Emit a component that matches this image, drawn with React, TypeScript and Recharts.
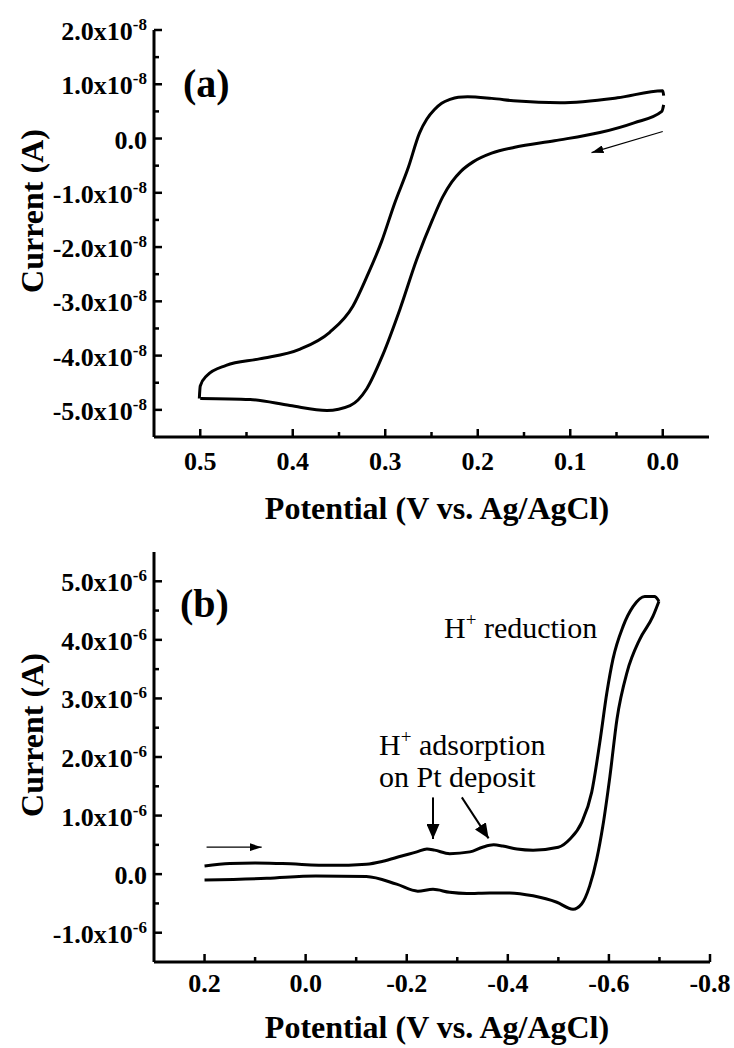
import { LineChart, Line, XAxis, YAxis } from 'recharts';

// panel (a): potential in V, current in units of 1e-8 A
const aCathodicV = [-0.001, 0.001, 0.031, 0.068, 0.117, 0.16, 0.185, 0.205, 0.218, 0.228, 0.238, 0.249, 0.266, 0.284, 0.303, 0.32, 0.338, 0.363, 0.403, 0.446, 0.5];
const aCathodicI = [0.62, 0.5, 0.29, 0.11, -0.04, -0.16, -0.27, -0.43, -0.6, -0.8, -1.08, -1.5, -2.23, -3.14, -4.0, -4.61, -4.92, -5.01, -4.92, -4.81, -4.79];
const aAnodicV = [0.501, 0.5, 0.493, 0.472, 0.436, 0.392, 0.36, 0.335, 0.32, 0.304, 0.29, 0.275, 0.263, 0.255, 0.247, 0.239, 0.23, 0.221, 0.211, 0.185, 0.157, 0.111, 0.049, 0.0, -0.001];
const aAnodicI = [-4.79, -4.56, -4.37, -4.18, -4.06, -3.88, -3.57, -3.09, -2.55, -1.9, -1.2, -0.53, 0.1, 0.36, 0.53, 0.65, 0.72, 0.76, 0.77, 0.74, 0.69, 0.66, 0.75, 0.88, 0.79];
const aArrowV = [0.0, 0.077];
const aArrowI = [0.13, -0.26];

// panel (b): potential in V, current in units of 1e-6 A
const bForwardV = [0.2, 0.15, 0.1, 0.046, -0.05, -0.12, -0.153, -0.19, -0.22, -0.24, -0.255, -0.285, -0.325, -0.35, -0.372, -0.39, -0.418, -0.45, -0.5, -0.523, -0.546, -0.566, -0.582, -0.596, -0.608, -0.628, -0.648, -0.671, -0.69, -0.699];
const bForwardI = [0.14, 0.18, 0.19, 0.18, 0.15, 0.17, 0.22, 0.31, 0.38, 0.43, 0.41, 0.35, 0.38, 0.46, 0.5, 0.48, 0.43, 0.41, 0.46, 0.6, 0.88, 1.4, 2.25, 3.1, 3.67, 4.23, 4.57, 4.74, 4.74, 4.66];
const bReverseV = [-0.699, -0.687, -0.661, -0.636, -0.616, -0.602, -0.588, -0.576, -0.562, -0.546, -0.529, -0.497, -0.45, -0.404, -0.364, -0.319, -0.285, -0.252, -0.222, -0.18, -0.12, -0.02, 0.077, 0.2];
const bReverseI = [4.66, 4.4, 4.01, 3.45, 2.65, 1.67, 0.82, 0.26, -0.2, -0.51, -0.6, -0.48, -0.37, -0.32, -0.32, -0.33, -0.31, -0.26, -0.29, -0.17, -0.04, -0.03, -0.07, -0.1];
const bScanArrowV = [0.196, 0.087];
const bScanArrowI = [0.46, 0.46];
const bPeak1ArrowV = [-0.252, -0.252];
const bPeak1ArrowI = [1.31, 0.6];
const bPeak2ArrowV = [-0.309, -0.362];
const bPeak2ArrowI = [1.31, 0.61];

// ticks
const aXMajor = [0.5, 0.4, 0.3, 0.2, 0.1, 0.0];
const aXMinor = [0.45, 0.35, 0.25, 0.15, 0.05];
const aYMajor = [2, 1, 0, -1, -2, -3, -4, -5];
const aYMinor = [1.5, 0.5, -0.5, -1.5, -2.5, -3.5, -4.5];
const bXMajor = [0.2, 0.0, -0.2, -0.4, -0.6, -0.8];
const bXMinor = [0.1, -0.1, -0.3, -0.5, -0.7];
const bYMajor = [5, 4, 3, 2, 1, 0, -1];
const bYMinor = [4.5, 3.5, 2.5, 1.5, 0.5, -0.5];

const zip = (v: number[], i: number[]) => v.map((x, k) => ({ v: x, i: i[k] }));

const FONT = "'Liberation Serif', 'Times New Roman', serif";
const isMajor = (v: number, majors: number[]) => majors.some((m) => Math.abs(m - v) < 1e-9);

type Side = 'left' | 'right' | 'top' | 'bottom';

function makeTick(side: Side, majors: number[], exp?: string, labelGap = 32) {
  return (props: any) => {
    const { x, y, payload } = props;
    const v = payload.value as number;
    const major = isMajor(v, majors);
    const len = major ? 8 : 5;
    let x2 = x;
    let y2 = y;
    if (side === 'left') x2 = x + len;
    if (side === 'right') x2 = x - len;
    if (side === 'bottom') y2 = y - len;
    if (side === 'top') y2 = y + len;
    let label = null;
    if (major && side === 'left') {
      const zero = Math.abs(v) < 1e-9;
      label = (
        <text x={x - 7} y={y + 10} textAnchor="end" fontFamily={FONT} fontWeight="bold" fontSize={26} fill="#000">
          {zero ? '0.0' : v.toFixed(1) + 'x10'}
          {!zero && (
            <tspan dy={-10} fontSize={17}>
              {exp}
            </tspan>
          )}
        </text>
      );
    }
    if (major && side === 'bottom') {
      label = (
        <text x={x} y={y + labelGap} textAnchor="middle" fontFamily={FONT} fontWeight="bold" fontSize={26} fill="#000">
          {Math.abs(v) < 1e-9 ? '0.0' : v.toFixed(1)}
        </text>
      );
    }
    return (
      <g>
        <line x1={x} y1={y} x2={x2} y2={y2} stroke="#000" strokeWidth={2.5} />
        {label}
      </g>
    );
  };
}

const axisLine = { stroke: '#000', strokeWidth: 3 };

function ArrowDefs({ id }: { id: string }) {
  return (
    <defs>
      <marker id={id + 'thin'} viewBox="0 0 10 10" refX="10" refY="5" markerWidth="12" markerHeight="8" markerUnits="userSpaceOnUse" orient="auto" preserveAspectRatio="none">
        <path d="M0,0 L10,5 L0,10 z" fill="#000" />
      </marker>
      <marker id={id + 'bold'} viewBox="0 0 10 10" refX="10" refY="5" markerWidth="15" markerHeight="13" markerUnits="userSpaceOnUse" orient="auto" preserveAspectRatio="none">
        <path d="M0,0 L10,5 L0,10 z" fill="#000" />
      </marker>
    </defs>
  );
}

function PanelA() {
  const xTicks = [...aXMajor, ...aXMinor];
  const yTicks = [...aYMajor, ...aYMinor];
  return (
    <LineChart width={734} height={532} margin={{ top: 30, right: 25, bottom: 0, left: 0 }}>
      <ArrowDefs id="a" />
      <XAxis xAxisId="b" dataKey="v" type="number" domain={[-0.05, 0.55]} reversed allowDataOverflow ticks={xTicks} interval={0} height={95} tickSize={0} tickMargin={0} tickLine={false} axisLine={axisLine} tick={makeTick('bottom', aXMajor, undefined, 33)} />
      <XAxis xAxisId="t" orientation="top" dataKey="v" type="number" domain={[-0.05, 0.55]} reversed allowDataOverflow ticks={xTicks} interval={0} height={0} tickSize={0} tickMargin={0} tickLine={false} axisLine={axisLine} tick={makeTick('top', aXMajor)} />
      <YAxis yAxisId="l" type="number" domain={[-5.5, 2]} allowDataOverflow ticks={yTicks} interval={0} width={154} tickSize={0} tickMargin={0} tickLine={false} axisLine={axisLine} tick={makeTick('left', aYMajor, '-8')} />
      <YAxis yAxisId="r" orientation="right" type="number" domain={[-5.5, 2]} allowDataOverflow ticks={yTicks} interval={0} width={0} tickSize={0} tickMargin={0} tickLine={false} axisLine={axisLine} tick={makeTick('right', aYMajor)} />
      <Line data={zip(aCathodicV, aCathodicI)} dataKey="i" xAxisId="b" yAxisId="l" type="monotone" stroke="#000" strokeWidth={3} dot={false} activeDot={false} isAnimationActive={false} />
      <Line data={zip(aAnodicV, aAnodicI)} dataKey="i" xAxisId="b" yAxisId="l" type="monotone" stroke="#000" strokeWidth={3} dot={false} activeDot={false} isAnimationActive={false} />
      <Line data={zip(aArrowV, aArrowI)} dataKey="i" xAxisId="b" yAxisId="l" type="linear" stroke="#000" strokeWidth={1.2} dot={false} activeDot={false} isAnimationActive={false} markerEnd="url(#athin)" />
      <text x={183} y={97} fontFamily={FONT} fontWeight="bold" fontSize={40} fill="#000">(a)</text>
      <text transform="rotate(-90)" x={-211} y={43} textAnchor="middle" fontFamily={FONT} fontWeight="bold" fontSize={32} fill="#000">Current (A)</text>
      <text x={437} y={519} textAnchor="middle" fontFamily={FONT} fontWeight="bold" fontSize={32} fill="#000">Potential (V vs. Ag/AgCl)</text>
    </LineChart>
  );
}

function PanelB() {
  const xTicks = [...bXMajor, ...bXMinor];
  const yTicks = [...bYMajor, ...bYMinor];
  return (
    <LineChart width={734} height={516} margin={{ top: 20, right: 24, bottom: 0, left: 0 }}>
      <ArrowDefs id="b" />
      <XAxis xAxisId="b" dataKey="v" type="number" domain={[-0.8, 0.3]} reversed allowDataOverflow ticks={xTicks} interval={0} height={86} tickSize={0} tickMargin={0} tickLine={false} axisLine={axisLine} tick={makeTick('bottom', bXMajor, undefined, 30)} />
      <XAxis xAxisId="t" orientation="top" dataKey="v" type="number" domain={[-0.8, 0.3]} reversed allowDataOverflow ticks={xTicks} interval={0} height={0} tickSize={0} tickMargin={0} tickLine={false} axisLine={axisLine} tick={makeTick('top', bXMajor)} />
      <YAxis yAxisId="l" type="number" domain={[-1.5, 5.5]} allowDataOverflow ticks={yTicks} interval={0} width={154} tickSize={0} tickMargin={0} tickLine={false} axisLine={axisLine} tick={makeTick('left', bYMajor, '-6')} />
      <YAxis yAxisId="r" orientation="right" type="number" domain={[-1.5, 5.5]} allowDataOverflow ticks={yTicks} interval={0} width={0} tickSize={0} tickMargin={0} tickLine={false} axisLine={axisLine} tick={makeTick('right', bYMajor)} />
      <Line data={zip(bForwardV, bForwardI)} dataKey="i" xAxisId="b" yAxisId="l" type="monotone" stroke="#000" strokeWidth={3} dot={false} activeDot={false} isAnimationActive={false} />
      <Line data={zip(bReverseV, bReverseI)} dataKey="i" xAxisId="b" yAxisId="l" type="monotone" stroke="#000" strokeWidth={3} dot={false} activeDot={false} isAnimationActive={false} />
      <Line data={zip(bScanArrowV, bScanArrowI)} dataKey="i" xAxisId="b" yAxisId="l" type="linear" stroke="#000" strokeWidth={1.3} dot={false} activeDot={false} isAnimationActive={false} markerEnd="url(#bthin)" />
      <Line data={zip(bPeak1ArrowV, bPeak1ArrowI)} dataKey="i" xAxisId="b" yAxisId="l" type="linear" stroke="#000" strokeWidth={2} dot={false} activeDot={false} isAnimationActive={false} markerEnd="url(#bbold)" />
      <Line data={zip(bPeak2ArrowV, bPeak2ArrowI)} dataKey="i" xAxisId="b" yAxisId="l" type="linear" stroke="#000" strokeWidth={2} dot={false} activeDot={false} isAnimationActive={false} markerEnd="url(#bbold)" />
      <text x={180} y={85} fontFamily={FONT} fontWeight="bold" fontSize={40} fill="#000">(b)</text>
      <text x={444} y={106} fontFamily={FONT} fontSize={30} fill="#000">
        H<tspan dy={-12} fontSize={19}>+</tspan>
        <tspan dy={12}> reduction</tspan>
      </text>
      <text x={379} y={223} fontFamily={FONT} fontSize={30} fill="#000">
        H<tspan dy={-12} fontSize={19}>+</tspan>
        <tspan dy={12}> adsorption</tspan>
      </text>
      <text x={379} y={255} fontFamily={FONT} fontSize={30} fill="#000">on Pt deposit</text>
      <text transform="rotate(-90)" x={-203} y={43} textAnchor="middle" fontFamily={FONT} fontWeight="bold" fontSize={32} fill="#000">Current (A)</text>
      <text x={437} y={506} textAnchor="middle" fontFamily={FONT} fontWeight="bold" fontSize={32} fill="#000">Potential (V vs. Ag/AgCl)</text>
    </LineChart>
  );
}

export default function App() {
  return (
    <div style={{ position: 'absolute', left: 0, top: 0, width: 734, height: 1048, background: '#fff' }}>
      <PanelA />
      <PanelB />
    </div>
  );
}
